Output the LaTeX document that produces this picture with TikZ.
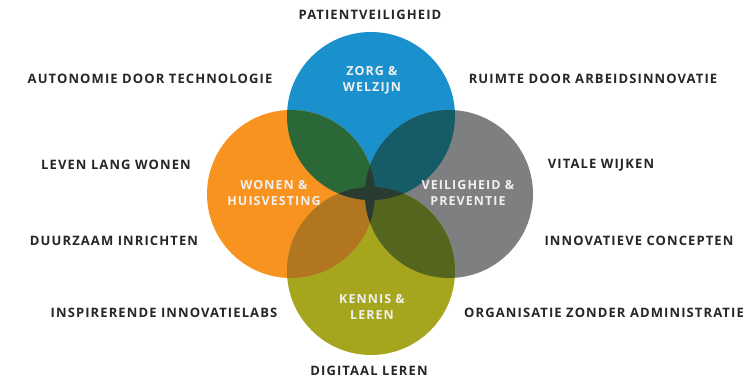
\documentclass[tikz,border=0pt]{standalone}
\usepackage{fontspec}
\setmainfont{Open Sans}
\newfontfamily\spacedfont[LetterSpace=8.5]{Open Sans}
\usepackage{xcolor}
\usepackage{tikz}
\usetikzlibrary{positioning, calc}

\definecolor{zorgblue}{RGB}{26,144,204}
\definecolor{wonenorange}{RGB}{247,147,30}
\definecolor{veiliggrey}{RGB}{125,127,128}
\definecolor{kennisolive}{RGB}{166,166,30}
\definecolor{zorgwonen}{RGB}{42,104,56}
\definecolor{zorgveilig}{RGB}{22,92,104}
\definecolor{wonenkennis}{RGB}{178,118,32}
\definecolor{veiligkennis}{RGB}{84,102,30}
\definecolor{zorgkennis}{RGB}{40,88,50}
\definecolor{wonenveilig}{RGB}{96,80,44}
\definecolor{middark}{RGB}{40,60,50}

\begin{document}
\begin{tikzpicture}[
        x=1pt, y=-1pt,
        topic/.style={font=\spacedfont\fontsize{13}{15}\selectfont\bfseries, text=black!85},
        sector/.style={font=\spacedfont\fontsize{12.5}{16}\selectfont\bfseries, text=white!94!black, align=center}
    ]
        \useasboundingbox (0,0) rectangle (756,379);

        % circle centres
        \coordinate (zorg) at (371,116);
        \coordinate (wonen) at (291,194);
        \coordinate (veilig) at (449,194);
        \coordinate (kennis) at (371,271);
        \def\rad{84pt}

        % base circles
        \fill[zorgblue] (zorg) circle[radius=\rad];
        \fill[wonenorange] (wonen) circle[radius=\rad];
        \fill[veiliggrey] (veilig) circle[radius=\rad];
        \fill[kennisolive] (kennis) circle[radius=\rad];

        % pairwise overlaps
        \foreach \a/\b/\col in {zorg/wonen/zorgwonen, zorg/veilig/zorgveilig,
                wonen/kennis/wonenkennis, veilig/kennis/veiligkennis,
                zorg/kennis/zorgkennis, wonen/veilig/wonenveilig} {
            \begin{scope}
                \clip (\a) circle[radius=\rad];
                \fill[\col] (\b) circle[radius=\rad];
            \end{scope}
        }

        % triple overlaps
        \foreach \a/\b/\c in {zorg/wonen/kennis, zorg/veilig/kennis,
                wonen/zorg/veilig, wonen/kennis/veilig} {
            \begin{scope}
                \clip (\a) circle[radius=\rad];
                \clip (\b) circle[radius=\rad];
                \fill[middark] (\c) circle[radius=\rad];
            \end{scope}
        }

        % labels inside the circles
        \node[sector] (zorglabel) at (372,80) {ZORG \&\\WELZIJN};
        \node[sector] (wonenlabel) at (274,193) {WONEN \&\\HUISVESTING};
        \node[sector] (veiliglabel) at (468,193) {VEILIGHEID \&\\PREVENTIE};
        \node[sector] (kennislabel) at (372,307) {KENNIS \&\\LEREN};

        % themes round the circles
        \node[topic] (patient) at (370,15) {PATIENTVEILIGHEID};
        \node[topic] (autonomie) at (150,79) {AUTONOMIE DOOR TECHNOLOGIE};
        \node[topic] (leven) at (116,165) {LEVEN LANG WONEN};
        \node[topic] (duurzaam) at (114,241) {DUURZAAM INRICHTEN};
        \node[topic] (labs) at (164,313) {INSPIRERENDE INNOVATIELABS};
        \node[topic] (ruimte) at (593,79) {RUIMTE DOOR ARBEIDSINNOVATIE};
        \node[topic] (wijken) at (601,165) {VITALE WIJKEN};
        \node[topic] (concepten) at (639,241) {INNOVATIEVE CONCEPTEN};
        \node[topic] (organisatie) at (604,313) {ORGANISATIE ZONDER ADMINISTRATIE};
        \node[topic] (digitaal) at (369,371) {DIGITAAL LEREN};

    \end{tikzpicture}
\end{document}
